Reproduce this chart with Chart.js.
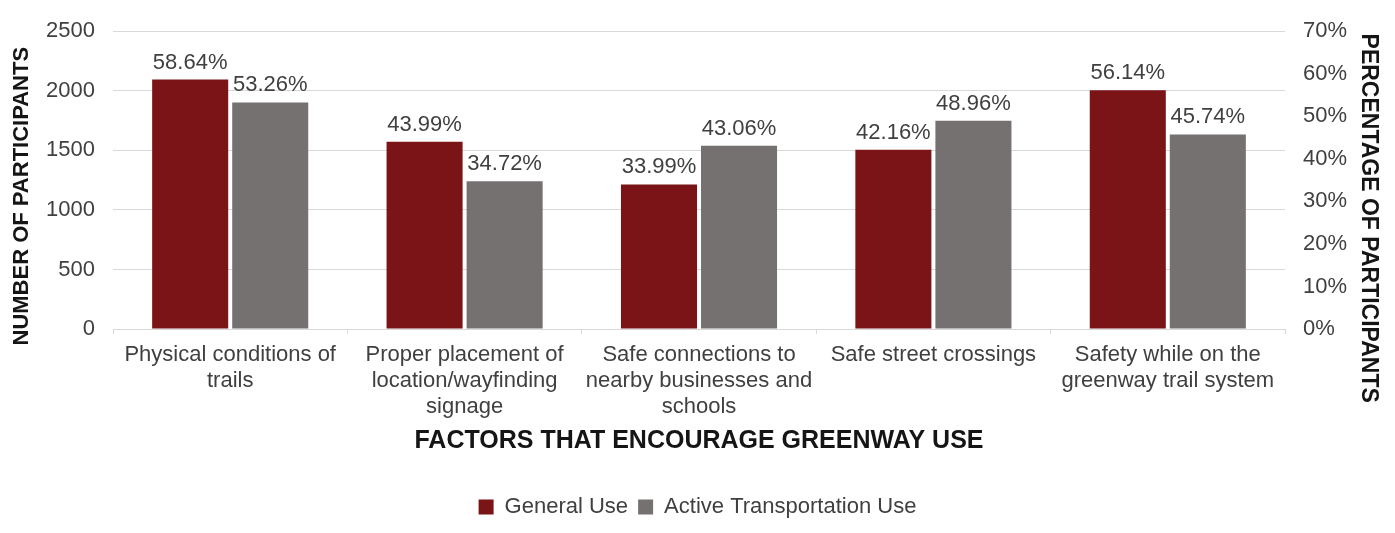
<!DOCTYPE html>
<html>
<head>
<meta charset="utf-8">
<script src="https://cdn.jsdelivr.net/npm/chart.js@4.4.1/dist/chart.umd.min.js"></script>
<style>
  html, body { margin: 0; padding: 0; background: #fff; }
  #wrap { width: 1395px; height: 533px; position: relative; }
</style>
</head>
<body>
<div id="wrap"><canvas id="factorsChart"></canvas></div>
<script>
const categories = [
    ['Physical conditions of', 'trails'],
    ['Proper placement of', 'location/wayfinding', 'signage'],
    ['Safe connections to', 'nearby businesses and', 'schools'],
    ['Safe street crossings'],
    ['Safety while on the', 'greenway trail system']
];
const generalUse = [58.64, 43.99, 33.99, 42.16, 56.14];
const activeTransportUse = [53.26, 34.72, 43.06, 48.96, 45.74];
const participantTicks = [0, 500, 1000, 1500, 2000, 2500];
const percentTicks = [0, 10, 20, 30, 40, 50, 60, 70];
const leftTitle = 'NUMBER OF PARTICIPANTS';
const rightTitle = 'PERCENTAGE OF PARTICIPANTS';

const colors = {
    red: '#7b1416',
    gray: '#767171',
    text: '#404040',
    title: '#151515',
    grid: '#d9d9d9'
};
const FONT = "'Liberation Sans', Arial, sans-serif";

// percentage labels above each bar
const barLabels = {
    id: 'barLabels',
    afterDatasetsDraw(chart) {
        const ctx = chart.ctx;
        ctx.save();
        ctx.font = '22px ' + FONT;
        ctx.fillStyle = colors.text;
        ctx.textAlign = 'center';
        ctx.textBaseline = 'bottom';
        chart.data.datasets.forEach((ds, i) => {
            chart.getDatasetMeta(i).data.forEach((bar, j) => {
                ctx.fillText(ds.data[j].toFixed(2) + '%', bar.x, bar.y - 6);
            });
        });
        ctx.restore();
    }
};

// vertical axis titles, sitting a bit lower than the plot centre
const axisTitles = {
    id: 'axisTitles',
    afterDraw(chart) {
        const ctx = chart.ctx;
        const area = chart.chartArea;
        ctx.save();
        ctx.fillStyle = colors.title;
        ctx.textAlign = 'center';
        ctx.textBaseline = 'middle';

        ctx.font = 'bold 22px ' + FONT;
        ctx.save();
        ctx.translate(chart.scales.y.left + 22, area.top + 165);
        ctx.rotate(-Math.PI / 2);
        ctx.fillText(leftTitle, 0, 0);
        ctx.restore();

        ctx.font = 'bold 23px ' + FONT;
        ctx.save();
        ctx.translate(chart.scales.y1.right - 27, area.top + 187);
        ctx.rotate(Math.PI / 2);
        ctx.fillText(rightTitle, 0, 0);
        ctx.restore();

        ctx.restore();
    }
};

const ctx = document.getElementById('factorsChart').getContext('2d');
new Chart(ctx, {
    type: 'bar',
    data: {
        labels: categories,
        datasets: [{
            label: 'General Use',
            data: generalUse,
            backgroundColor: colors.red,
            yAxisID: 'y1',
            categoryPercentage: 0.683,
            barPercentage: 0.95
        }, {
            label: 'Active Transportation Use',
            data: activeTransportUse,
            backgroundColor: colors.gray,
            yAxisID: 'y1',
            categoryPercentage: 0.683,
            barPercentage: 0.95
        }]
    },
    options: {
        responsive: true,
        maintainAspectRatio: false,
        animation: false,
        layout: { padding: { top: 24, bottom: 5, left: 0, right: 0 } },
        plugins: {
            legend: {
                position: 'bottom',
                labels: {
                    boxWidth: 15,
                    boxHeight: 15,
                    padding: 10,
                    color: colors.text,
                    font: { family: FONT, size: 22 }
                }
            },
            tooltip: { enabled: false }
        },
        scales: {
            x: {
                grid: {
                    offset: true,
                    drawOnChartArea: false,
                    drawTicks: true,
                    tickLength: 5,
                    color: colors.grid
                },
                border: { color: colors.grid },
                ticks: {
                    color: colors.text,
                    padding: 8,
                    maxRotation: 0,
                    font: { family: FONT, size: 22, lineHeight: 1.18 }
                },
                title: {
                    display: true,
                    text: 'FACTORS THAT ENCOURAGE GREENWAY USE',
                    color: colors.title,
                    font: { family: FONT, size: 25, weight: 'bold' },
                    padding: { top: 0, bottom: 30 }
                },
                afterFit(scale) { scale.height = 157; }
            },
            y: {
                type: 'linear',
                display: true,
                position: 'left',
                min: 0,
                max: 2500,
                afterBuildTicks(scale) {
                    scale.ticks = participantTicks.map(v => ({ value: v }));
                },
                grid: { color: colors.grid, drawTicks: false },
                border: { display: false },
                ticks: {
                    color: colors.text,
                    padding: 18,
                    font: { family: FONT, size: 22 },
                    callback: v => String(v)
                },
                afterFit(scale) { scale.width = 113; }
            },
            y1: {
                type: 'linear',
                display: true,
                position: 'right',
                min: 0,
                max: 70,
                afterBuildTicks(scale) {
                    scale.ticks = percentTicks.map(v => ({ value: v }));
                },
                grid: { drawOnChartArea: false, drawTicks: false },
                border: { display: false },
                ticks: {
                    color: colors.text,
                    padding: 18,
                    font: { family: FONT, size: 22 },
                    callback: v => v + '%'
                },
                afterFit(scale) { scale.width = 110; }
            }
        }
    },
    plugins: [barLabels, axisTitles]
});
</script>
</body>
</html>
